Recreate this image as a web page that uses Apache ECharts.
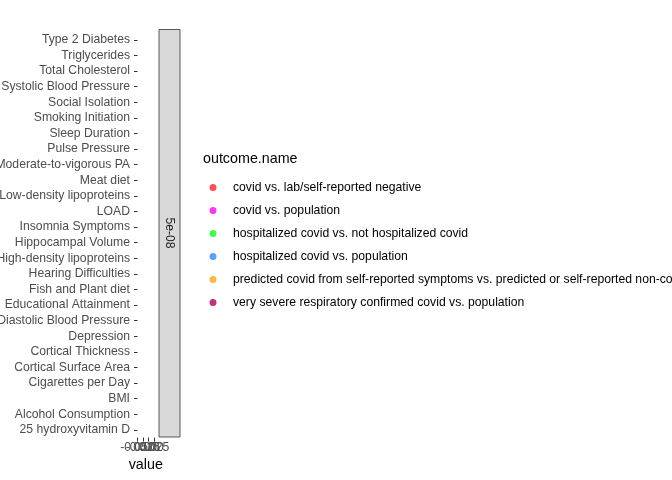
<!DOCTYPE html>
<html>
<head>
<meta charset="utf-8">
<script src="https://cdn.jsdelivr.net/npm/echarts@6/dist/echarts.min.js"></script>
<style>html,body{margin:0;padding:0;background:#fff}#c{width:672px;height:480px}</style>
</head>
<body>
<div id="c"></div>
<script>
// categories (bottom to top)
const categories = [
  '25 hydroxyvitamin D','Alcohol Consumption','BMI','Cigarettes per Day',
  'Cortical Surface Area','Cortical Thickness','Depression','Diastolic Blood Pressure',
  'Educational Attainment','Fish and Plant diet','Hearing Difficulties',
  'High-density lipoproteins','Hippocampal Volume','Insomnia Symptoms','LOAD',
  'Low-density lipoproteins','Meat diet','Moderate-to-vigorous PA','Pulse Pressure',
  'Sleep Duration','Smoking Initiation','Social Isolation','Systolic Blood Pressure',
  'Total Cholesterol','Triglycerides','Type 2 Diabetes'
];
const outcomes = [
  'covid vs. lab/self-reported negative',
  'covid vs. population',
  'hospitalized covid vs. not hospitalized covid',
  'hospitalized covid vs. population',
  'predicted covid from self-reported symptoms vs. predicted or self-reported non-covid',
  'very severe respiratory confirmed covid vs. population'
];
const outcomeColors = ['#F8262C','#F50AEF','#19F52A','#3787F7','#FBA61E','#B0005E'];
// no points in the panel
const seriesValues = [[],[],[],[],[],[]];
const xTickValues = [-0.05, -0.025, 0, 0.025];
const facetLabels = ['5e-08'];

const FONT = 'Liberation Sans, Arial, Helvetica, sans-serif';
const chart = echarts.init(document.getElementById('c'), null, {renderer: 'canvas'});

// one overlaid x axis per tick so the (overlapping) tick labels are all drawn
const panelXAxes = xTickValues.map((tv, i) => ({
  type: 'value', gridIndex: 0, position: 'bottom', offset: 0,
  min: xTickValues[0], max: xTickValues[xTickValues.length - 1],
  axisLine: {show: false, onZero: false},
  splitLine: {show: false},
  axisTick: {show: true, length: 4, customValues: [tv],
             lineStyle: {color: '#333333', width: 1}},
  axisLabel: {
    show: true, margin: 4, hideOverlap: false,
    customValues: [tv],
    fontFamily: FONT, fontSize: 12.2, color: '#4D4D4D',
    formatter: v => v.toFixed(3)
  },
  name: i === 0 ? 'value' : '', nameLocation: 'middle', nameGap: 20,
  nameTextStyle: {fontFamily: FONT, fontSize: 14.3, color: '#000'}
}));

chart.setOption({
  animation: false,
  backgroundColor: '#ffffff',
  title: {
    text: 'outcome.name',
    left: 203, top: 152, padding: 0,
    textStyle: {fontFamily: FONT, fontSize: 14.3, fontWeight: 'normal', color: '#000'}
  },
  legend: {
    orient: 'vertical',
    left: 209.5, top: 180.5, padding: 0,
    itemWidth: 7, itemHeight: 7, itemGap: 9,
    icon: 'circle',
    data: outcomes,
    textStyle: {fontFamily: FONT, fontSize: 12.2, color: '#000', lineHeight: 14, padding: [0,0,0,11.5]}
  },
  grid: [
    {left: 137.5, width: 16.5, top: 32, height: 405.6, show: false,
     containLabel: false, outerBoundsMode: 'none'},
    {left: 159, width: 21, top: 29.5, height: 407.5, show: true,
     containLabel: false, outerBoundsMode: 'none',
     backgroundColor: '#D9D9D9', borderColor: '#333333', borderWidth: 0.8}
  ],
  xAxis: panelXAxes.concat([{type: 'value', gridIndex: 1, show: false}]),
  yAxis: [
    {
      type: 'category', gridIndex: 0, data: categories, boundaryGap: true,
      axisLine: {show: false, onZero: false},
      splitLine: {show: false},
      axisTick: {show: true, length: 3.5, alignWithLabel: true, interval: 0,
                 lineStyle: {color: '#333333', width: 1}},
      axisLabel: {margin: 7.5, interval: 0, fontFamily: FONT, fontSize: 12.2, color: '#4D4D4D'}
    },
    {type: 'value', gridIndex: 1, show: false}
  ],
  graphic: [{
    type: 'text',
    x: 169.5, y: 233,
    rotation: -Math.PI / 2,
    style: {
      text: facetLabels[0],
      x: 0, y: 0,
      textAlign: 'center', textVerticalAlign: 'middle',
      font: '12.2px ' + FONT,
      fill: '#1A1A1A'
    }
  }],
  series: outcomes.map((name, i) => ({
    name: name,
    type: 'scatter',
    xAxisIndex: 0, yAxisIndex: 0,
    symbolSize: 7,
    itemStyle: {color: outcomeColors[i]},
    data: seriesValues[i]
  }))
});
</script>
</body>
</html>
